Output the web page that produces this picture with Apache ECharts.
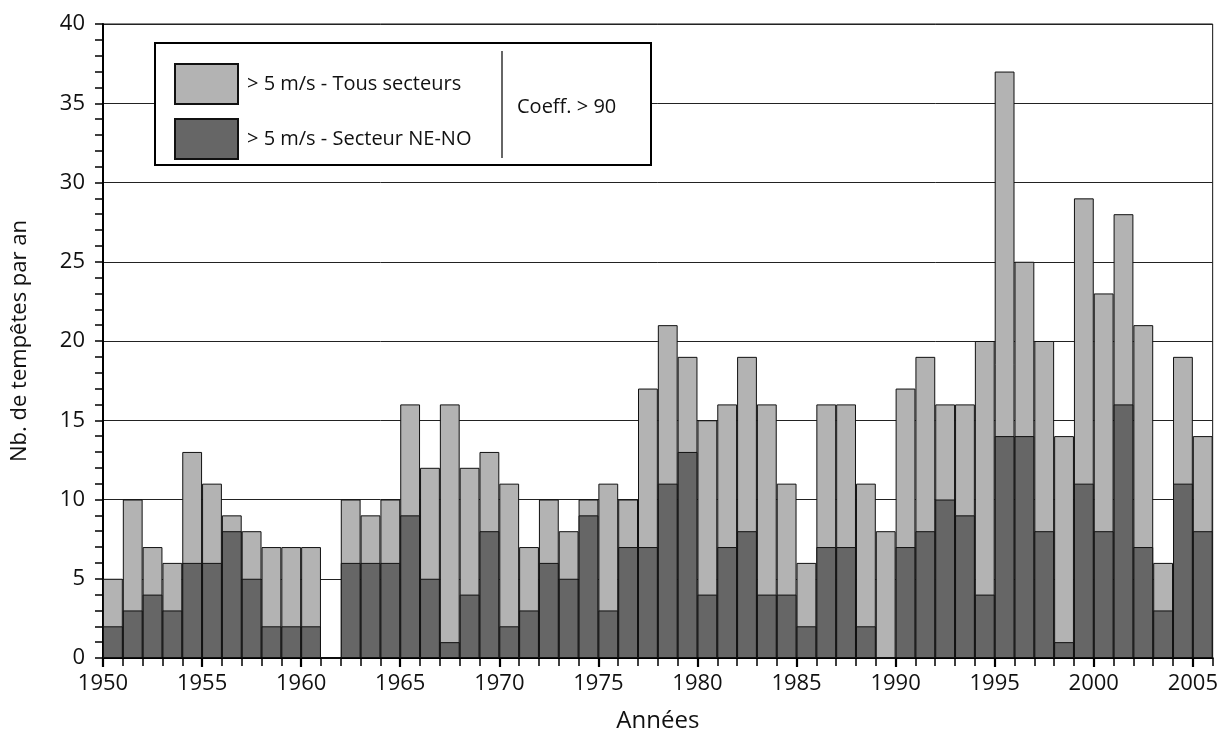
<!DOCTYPE html>
<html><head><meta charset="utf-8">
<script src="https://cdn.jsdelivr.net/npm/echarts@6/dist/echarts.min.js"></script>
<style>html,body{margin:0;padding:0;background:#fff}#c{width:1221px;height:738px}</style>
</head><body><div id="c"></div>
<script>
const years = ['1950','1951','1952','1953','1954','1955','1956','1957','1958','1959',
  '1960','1961','1962','1963','1964','1965','1966','1967','1968','1969',
  '1970','1971','1972','1973','1974','1975','1976','1977','1978','1979',
  '1980','1981','1982','1983','1984','1985','1986','1987','1988','1989',
  '1990','1991','1992','1993','1994','1995','1996','1997','1998','1999',
  '2000','2001','2002','2003','2004','2005'];
const tousSecteurs = [5,10,7,6,13,11,9,8,7,7,
  7,0,10,9,10,16,12,16,12,13,
  11,7,10,8,10,11,10,17,21,19,
  15,16,19,16,11,6,16,16,11,8,
  17,19,16,16,20,37,25,20,14,29,
  23,28,21,6,19,14];
const secteurNENO = [2,3,4,3,6,6,8,5,2,2,
  2,0,6,6,6,9,5,1,4,8,
  2,3,6,5,9,3,7,7,11,13,
  4,7,8,4,4,2,7,7,2,0,
  7,8,10,9,4,14,14,8,1,11,
  8,16,7,3,11,8];
const seriesNames = ['> 5 m/s - Tous secteurs', '> 5 m/s - Secteur NE-NO'];
const coeffLabel = 'Coeff. > 90';
const yAxisName = 'Nb. de tempêtes par an';
const xAxisName = 'Années';
const yearMin = 1950, yearMax = 2006, yearStep = 5;
const yMin = 0, yMax = 40, yStep = 5;

const FONT = '"Open Sans", "DejaVu Sans", sans-serif';
const chart = echarts.init(document.getElementById('c'), null, {renderer: 'canvas'});
chart.setOption({
  animation: false,
  backgroundColor: '#fff',
  textStyle: {fontFamily: FONT, color: '#111'},
  grid: {left: 103, right: 4, top: 24, bottom: 71, show: true, borderColor: '#111', borderWidth: 1, backgroundColor: 'transparent'},
  legend: {
    orient: 'vertical', left: 169, top: 58, itemWidth: 63, itemHeight: 40, itemGap: 13,
    icon: 'rect', selectedMode: false, z: 10,
    data: seriesNames,
    textStyle: {fontSize: 20, color: '#111', fontFamily: FONT, padding: [0, 0, 0, 4]}
  },
  graphic: [
    {type: 'rect', z: 5, shape: {x: 155, y: 43, width: 496, height: 122},
      style: {fill: '#fff', stroke: '#000', lineWidth: 2}},
    {type: 'line', z: 6, shape: {x1: 502, y1: 51, x2: 502, y2: 158},
      style: {stroke: '#333', lineWidth: 1.5}},
    {type: 'text', z: 6, x: 517, y: 107,
      style: {text: coeffLabel, font: '20px ' + FONT, fill: '#111', verticalAlign: 'middle', textAlign: 'left'}}
  ],
  xAxis: [
    {type: 'category', data: years, boundaryGap: true, position: 'bottom',
      axisLine: {show: true, lineStyle: {color: '#000', width: 2}},
      axisTick: {show: true, interval: 0, length: 8, lineStyle: {color: '#000', width: 1.5}},
      axisLabel: {show: false}, splitLine: {show: false}},
    {type: 'value', min: yearMin, max: yearMax, interval: yearStep, position: 'bottom',
      axisLine: {show: false},
      axisTick: {show: true, length: 9, lineStyle: {color: '#000', width: 2.2}},
      axisLabel: {show: true, fontSize: 22, lineHeight: 22, margin: 15, color: '#111', fontFamily: FONT,
        showMaxLabel: false, formatter: v => String(v)},
      splitLine: {show: false},
      name: xAxisName, nameLocation: 'middle', nameGap: 51,
      nameTextStyle: {fontSize: 24, lineHeight: 24, color: '#111', fontFamily: FONT}}
  ],
  yAxis: {
    type: 'value', min: yMin, max: yMax, interval: yStep,
    axisLine: {show: true, lineStyle: {color: '#000', width: 2}},
    axisTick: {show: true, length: 8, lineStyle: {color: '#000', width: 1.5}},
    minorTick: {show: true, splitNumber: 5, length: 8, lineStyle: {color: '#000', width: 1.5}},
    axisLabel: {fontSize: 22, margin: 18, color: '#111', fontFamily: FONT},
    splitLine: {show: true, lineStyle: {color: '#222', width: 1}},
    name: yAxisName, nameLocation: 'middle', nameGap: 72,
    nameTextStyle: {fontSize: 22, color: '#111', fontFamily: FONT}
  },
  series: [
    {name: seriesNames[0], type: 'bar', xAxisIndex: 0, data: tousSecteurs,
      barWidth: '100%', barGap: '-100%', barCategoryGap: '0%', z: 2,
      itemStyle: {color: '#b3b3b3', borderColor: '#111', borderWidth: 1}},
    {name: seriesNames[1], type: 'bar', xAxisIndex: 0, data: secteurNENO,
      barWidth: '100%', barGap: '-100%', barCategoryGap: '0%', z: 3,
      itemStyle: {color: '#666666', borderColor: '#111', borderWidth: 1}}
  ]
});
</script></body></html>
